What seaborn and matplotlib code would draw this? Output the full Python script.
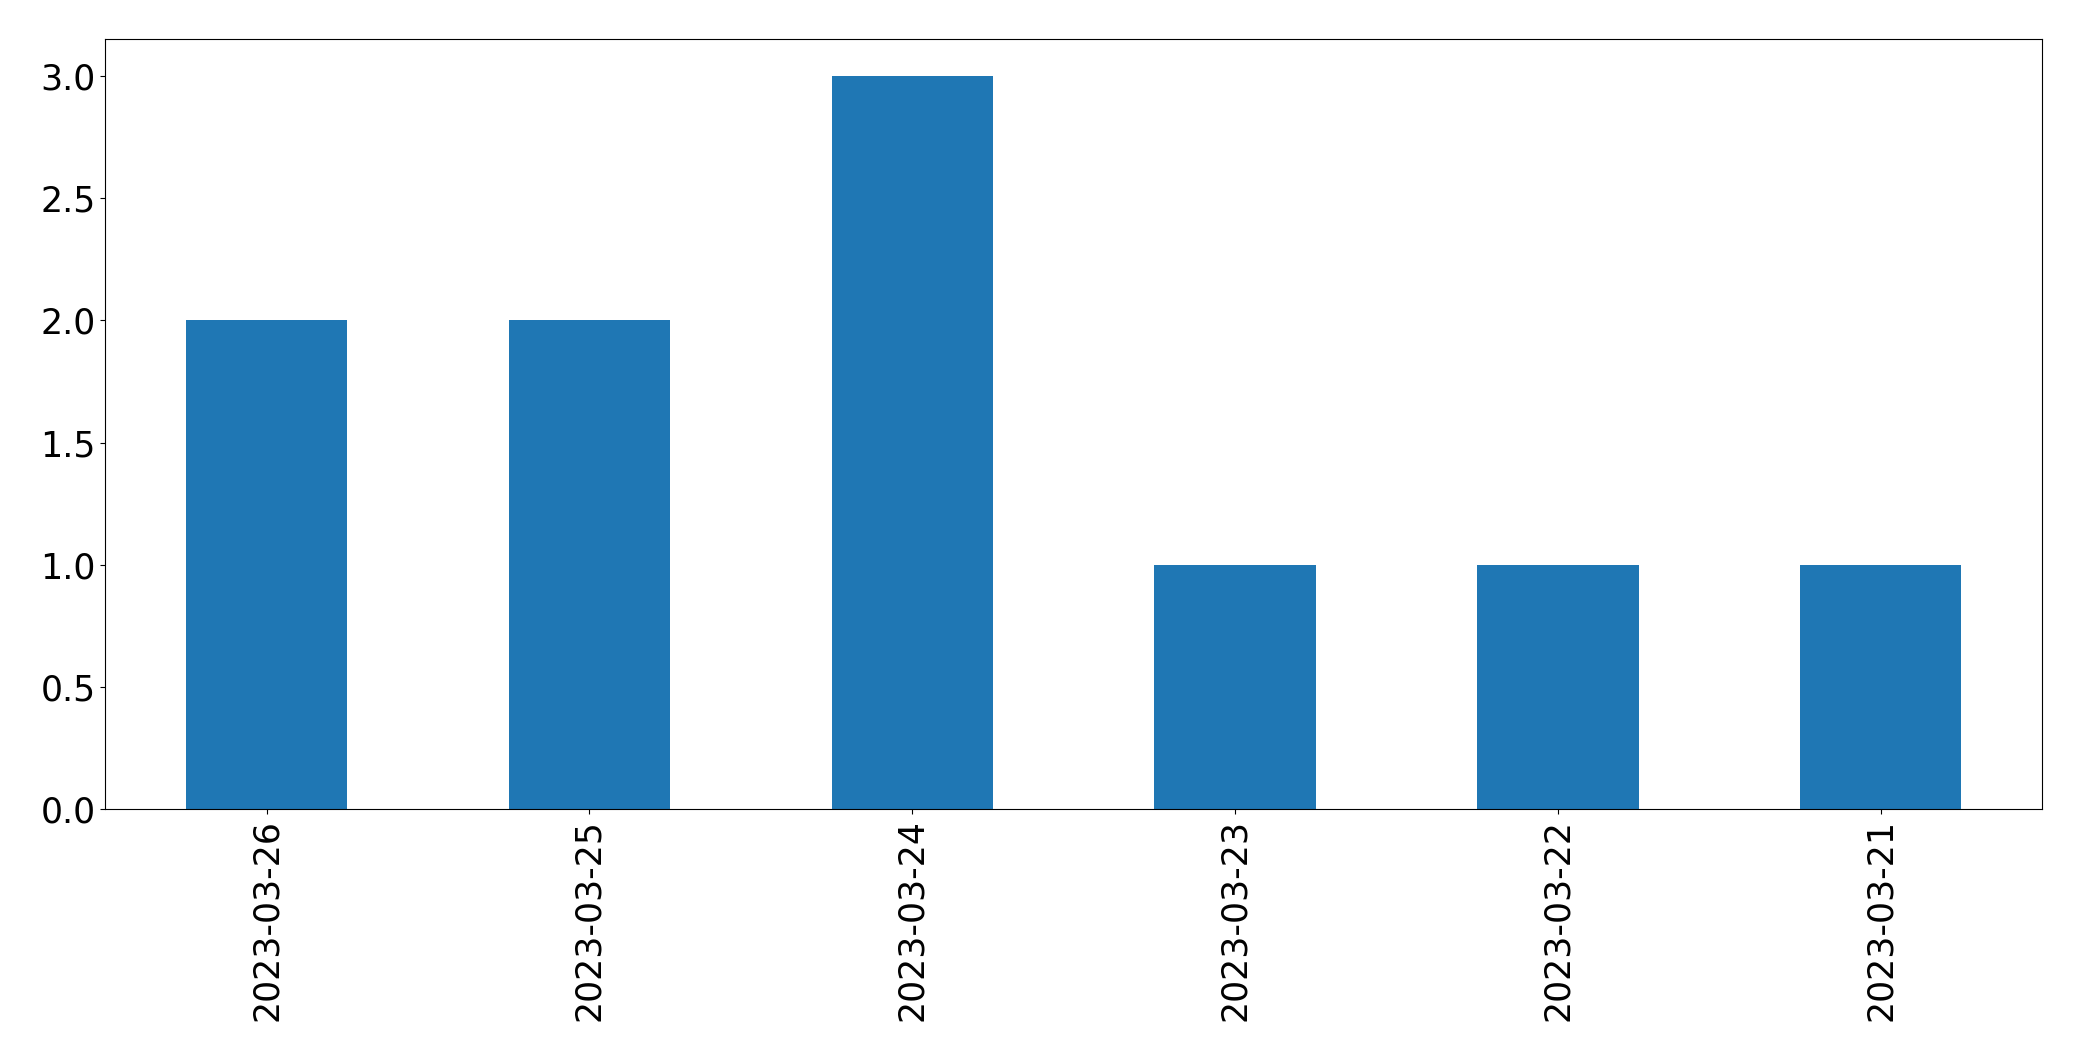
import matplotlib
matplotlib.use("Agg")
import matplotlib.pyplot as plt
import seaborn as sns
import pandas as pd

dates = ["2023-03-26", "2023-03-25", "2023-03-24", "2023-03-23", "2023-03-22", "2023-03-21"]
counts = [2, 2, 3, 1, 1, 1]

df = pd.DataFrame({"date": dates, "count": counts})

fig = plt.figure(figsize=(20.82, 10.61), dpi=100)
ax = fig.add_axes([105.3 / 2082, 1 - 809.3 / 1061, (2042 - 105.3) / 2082, (809.3 - 39.3) / 1061])
sns.barplot(data=df, x="date", y="count", color="#1f77b4", saturation=1, width=0.5, ax=ax, order=dates)
ax.set_xlim(-0.5, len(dates) - 0.5)
ax.set_ylim(0, 3.15)
ax.set_xlabel("")
ax.set_ylabel("")
ax.tick_params(axis="both", labelsize=25)
ax.tick_params(axis="x", labelrotation=90)
fig.savefig("out.png", dpi=100)
